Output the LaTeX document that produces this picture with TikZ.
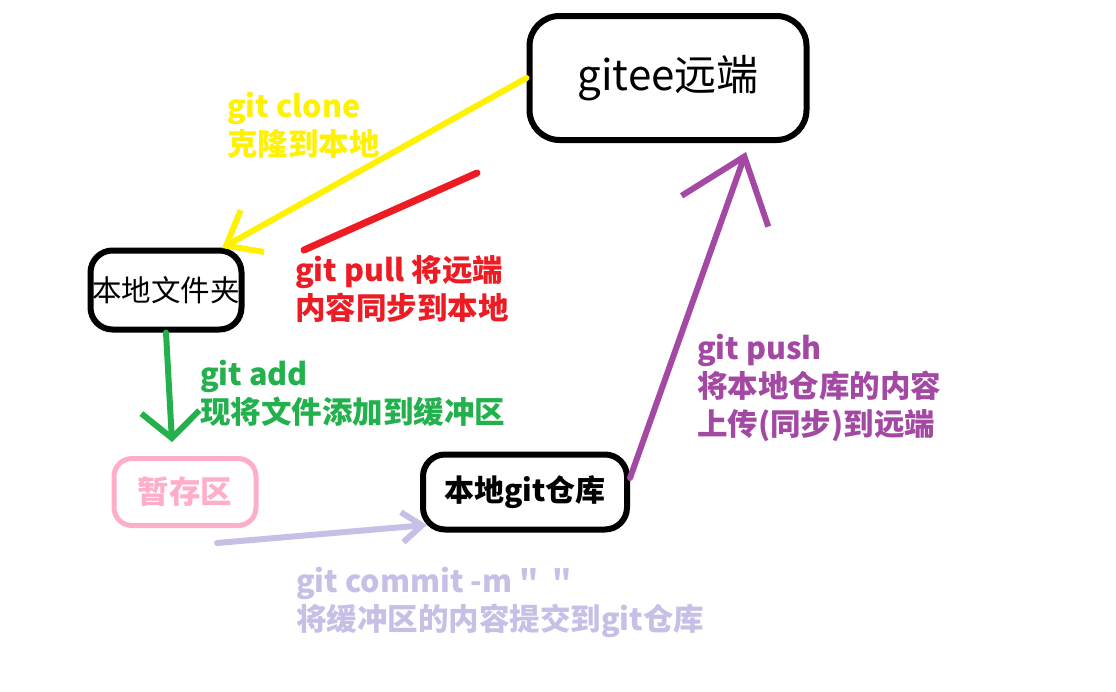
\documentclass[tikz,border=0pt]{standalone}
\usepackage{fontspec}
\newfontfamily\cjk{Noto Sans CJK SC}
\usetikzlibrary{arrows.meta}
\definecolor{cloneyellow}{HTML}{FFF200}
\definecolor{pullred}{HTML}{ED1C24}
\definecolor{addgreen}{HTML}{22B14C}
\definecolor{stagepink}{HTML}{FFAEC9}
\definecolor{commitlav}{HTML}{C8BFE7}
\definecolor{pushpurple}{HTML}{A349A4}
\tikzset{
  box/.style={draw, line width=6pt, rounded corners=22pt, inner sep=0pt, align=center},
  lbl/.style={anchor=north west, align=left, inner sep=0pt, font=\cjk\bfseries\fontsize{30.5}{38}\selectfont},
  flow/.style={line width=6pt, line cap=round},
}
\begin{document}
\begin{tikzpicture}[x=1pt,y=-1pt]
\useasboundingbox[fill=white] (0,0) rectangle (1116,691);
% Kaesten
\node[box, rounded corners=30pt, minimum width=277pt, minimum height=124pt, font=\cjk\fontsize{42}{48}\selectfont] (gitee) at (668,78) {gitee远端};
\node[box, minimum width=151pt, minimum height=79pt, font=\cjk\fontsize{29.5}{34}\selectfont] (folder) at (166,290) {本地文件夹};
\node[box, draw=stagepink, text=stagepink, line width=5pt, rounded corners=18pt, minimum width=142pt, minimum height=67pt, font=\cjk\bfseries\fontsize{31.5}{34}\selectfont] (stage) at (185,492) {暂存区};
\node[box, minimum width=204pt, minimum height=75pt, font=\cjk\bfseries\fontsize{30}{34}\selectfont] (repo) at (525,492) {本地git仓库};
% Endpunkte
\coordinate (cloneTip) at (222,248);
\coordinate (pullA) at (304,250);
\coordinate (pullB) at (477,173);
\coordinate (addTip) at (172,442);
\coordinate (commitStart) at (217,543);
\coordinate (commitTip) at (427,525);
\coordinate (pushStart) at (630,478);
\coordinate (pushTip) at (746,152);
% Pfeile
\draw[flow, cloneyellow, -{Straight Barb[length=30pt,width=48pt]}] (gitee.west) -- (cloneTip);
\draw[flow, pullred, line width=7pt] (pullA) -- (pullB);
\draw[flow, addgreen, -{Straight Barb[length=26pt,width=58pt]}] (folder.south) -- (addTip);
\draw[flow, commitlav, -{Straight Barb[length=20pt,width=30pt]}] (commitStart) -- (commitTip);
\draw[flow, pushpurple, -{Straight Barb[length=58pt,width=92pt]}] (pushStart) -- (pushTip);
% Beschriftungen
\node[lbl, text=cloneyellow] (clonelbl) at (227,92) {git clone\\克隆到本地};
\node[lbl, text=pullred] (pulllbl) at (295,255) {git pull 将远端\\内容同步到本地};
\node[lbl, text=addgreen] (addlbl) at (200,360) {git add\\现将文件添加到缓冲区};
\node[lbl, text=pushpurple] (pushlbl) at (697,334) {git push\\将本地仓库的内容\\上传(同步)到远端};
\node[lbl, text=commitlav] (commitlbl) at (296,567) {git commit -m "\ \ "\\将缓冲区的内容提交到git仓库};
\end{tikzpicture}
\end{document}
